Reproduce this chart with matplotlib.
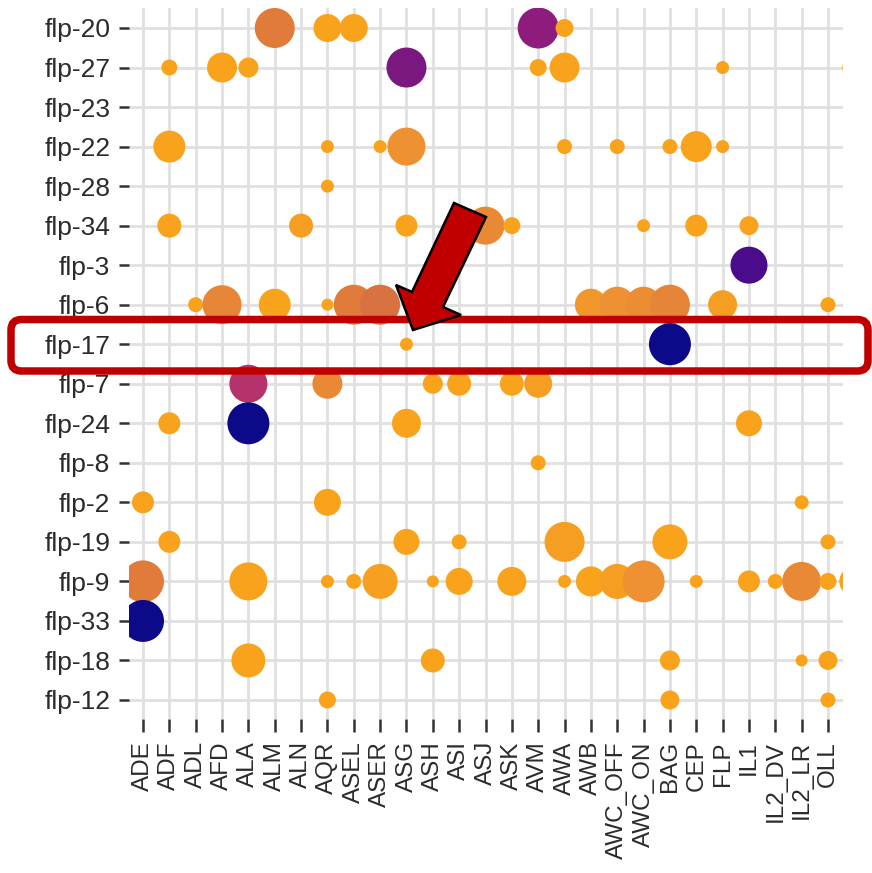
import matplotlib
matplotlib.use("Agg")
import matplotlib.pyplot as plt
import numpy as np
from matplotlib.colors import LinearSegmentedColormap
from matplotlib.patches import Polygon, FancyBboxPatch

# categorie: neuroni sull'asse x, neuropeptidi sull'asse y (dall'alto in basso)
cells = ["ADE", "ADF", "ADL", "AFD", "ALA", "ALM", "ALN", "AQR", "ASEL", "ASER",
         "ASG", "ASH", "ASI", "ASJ", "ASK", "AVM", "AWA", "AWB", "AWC_OFF", "AWC_ON",
         "BAG", "CEP", "FLP", "IL1", "IL2_DV", "IL2_LR", "OLL", "OLQ"]  # OLQ esce dal ritaglio
genes = ["flp-20", "flp-27", "flp-23", "flp-22", "flp-28", "flp-34", "flp-3", "flp-6",
         "flp-17", "flp-7", "flp-24", "flp-8", "flp-2", "flp-19", "flp-9", "flp-33",
         "flp-18", "flp-12"]

# per ogni riga: (neurone, dimensione punto, livello colore 0=blu .. 1=arancio)
flp_20 = [("ALM", 40, .80), ("AQR", 28, 1), ("ASEL", 28, 1), ("AVM", 41, .45), ("AWA", 18, 1)]
flp_27 = [("ADF", 16, 1), ("AFD", 30, 1), ("ALA", 20, 1), ("ASG", 40, .40), ("AVM", 17, 1),
          ("AWA", 30, 1), ("FLP", 13, 1), ("OLQ", 24, 1)]
flp_23 = []
flp_22 = [("ADF", 32, 1), ("AQR", 13, 1), ("ASER", 13, 1), ("ASG", 38, .9), ("AWA", 15, 1),
          ("AWC_OFF", 15, 1), ("BAG", 15, 1), ("CEP", 31, 1), ("FLP", 13, 1), ("OLQ", 22, 1)]
flp_28 = [("AQR", 13, 1)]
flp_34 = [("ADF", 24, 1), ("ALN", 24, .97), ("ASG", 22, 1), ("ASJ", 38, .86), ("ASK", 17, 1),
          ("AWC_ON", 13, 1), ("CEP", 22, 1), ("IL1", 19, 1)]
flp_3 = [("IL1", 37, .25)]
flp_6 = [("ADL", 15, 1), ("AFD", 39, .85), ("ALM", 32, 1), ("AQR", 12, 1), ("ASEL", 40, .8),
         ("ASER", 40, .77), ("AWB", 32, .93), ("AWC_OFF", 36, .9), ("AWC_ON", 36, .88),
         ("BAG", 40, .84), ("FLP", 29, .97), ("OLL", 15, 1)]
flp_17 = [("ASG", 13, 1), ("BAG", 42, 0)]
flp_7 = [("ALA", 38, .6), ("AQR", 30, .86), ("ASH", 20, 1), ("ASI", 24, 1), ("ASK", 24, 1),
         ("AVM", 28, .97)]
flp_24 = [("ADF", 22, 1), ("ALA", 42, 0), ("ASG", 29, 1), ("IL1", 26, 1)]
flp_8 = [("AVM", 15, 1)]
flp_2 = [("ADE", 22, 1), ("AQR", 27, 1), ("IL2_LR", 14, 1)]
flp_19 = [("ADF", 22, 1), ("ASG", 26, 1), ("ASI", 15, 1), ("AWA", 40, .97), ("BAG", 35, 1),
          ("OLL", 15, 1)]
flp_9 = [("ADE", 42, .8), ("ALA", 38, 1), ("AQR", 13, 1), ("ASEL", 15, 1), ("ASER", 35, .98),
         ("ASH", 12, 1), ("ASI", 27, 1), ("ASK", 29, 1), ("AWA", 13, 1), ("AWB", 30, 1),
         ("AWC_OFF", 35, .97), ("AWC_ON", 42, .9), ("CEP", 13, 1), ("IL1", 22, 1),
         ("IL2_DV", 15, 1), ("IL2_LR", 39, .86), ("OLL", 17, 1), ("OLQ", 30, 1)]
flp_33 = [("ADE", 42, 0)]
flp_18 = [("ALA", 34, 1), ("ASH", 24, 1), ("BAG", 20, 1), ("IL2_LR", 12, 1), ("OLL", 19, 1)]
flp_12 = [("AQR", 17, 1), ("BAG", 19, 1), ("OLL", 15, 1)]

righe = [flp_20, flp_27, flp_23, flp_22, flp_28, flp_34, flp_3, flp_6, flp_17, flp_7,
         flp_24, flp_8, flp_2, flp_19, flp_9, flp_33, flp_18, flp_12]

W, H = 872, 873
DPI = 100
fig = plt.figure(figsize=(W / DPI, H / DPI), dpi=DPI)
plt.rcParams['font.family'] = ['Liberation Sans', 'DejaVu Sans']

# pannello in pixel: sinistra 129, destra 843, alto 8, basso 719
ax = fig.add_axes([129 / W, 1 - 719 / H, (843 - 129) / W, (719 - 8) / H])

cmap = LinearSegmentedColormap.from_list("expr", [
    (0.0, "#0c0a88"), (0.25, "#4b0c8c"), (0.4, "#7a1880"), (0.45, "#8e1c7c"),
    (0.6, "#b5336b"), (0.8, "#e07b3a"), (0.9, "#ee9132"), (1.0, "#f9a31c")])

xs, ys, ss, cs = [], [], [], []
for i, riga in enumerate(righe):
    for cell, size, lev in riga:
        xs.append(cells.index(cell))
        ys.append(i)
        ss.append((size * 72 / DPI) ** 2)
        cs.append(lev)

ax.scatter(xs, ys, s=ss, c=cs, cmap=cmap, vmin=0, vmax=1, edgecolors='none', zorder=3)

ax.set_xticks(range(len(cells)))
ax.set_xticklabels(cells, rotation=90, fontsize=17.5, color='#2b2b2b', va='top', ha='center')
ax.set_yticks(range(len(genes)))
ax.set_yticklabels(genes, fontsize=19, color='#2b2b2b')

px_x = 685 / 26.0
px_y = 672 / 17.0
ax.set_xlim((129 - 143) / px_x, (843 - 143) / px_x)
ax.set_ylim((719 - 28) / px_y, (8 - 28) / px_y)

ax.grid(True, color='#e0e0e0', linewidth=2.0, zorder=0)
ax.set_axisbelow(True)
for sp in ax.spines.values():
    sp.set_visible(False)
ax.tick_params(axis='x', length=9, width=1.8, color='#333333', pad=7)
ax.tick_params(axis='y', length=7.5, width=1.8, color='#333333', pad=6)

def fx(p):
    return p / W

def fy(p):
    return 1 - p / H

# riquadro rosso attorno alla riga flp-17
box = FancyBboxPatch((fx(11), fy(371)), fx(868) - fx(11), fy(319.5) - fy(371),
                     boxstyle="round,pad=0,rounding_size=0.012",
                     transform=fig.transFigure, fill=False, edgecolor='#c00000',
                     linewidth=5.4, zorder=10)
fig.patches.append(box)

# freccia rossa
freccia = [(454, 203), (486, 217), (443, 307), (461, 315), (413, 330), (396, 285), (412, 292)]
arrow = Polygon([(fx(a), fy(b)) for a, b in freccia], closed=True, transform=fig.transFigure,
                facecolor='#c00000', edgecolor='black', linewidth=1.8, zorder=11)
fig.patches.append(arrow)

fig.savefig("out.png", dpi=DPI)
